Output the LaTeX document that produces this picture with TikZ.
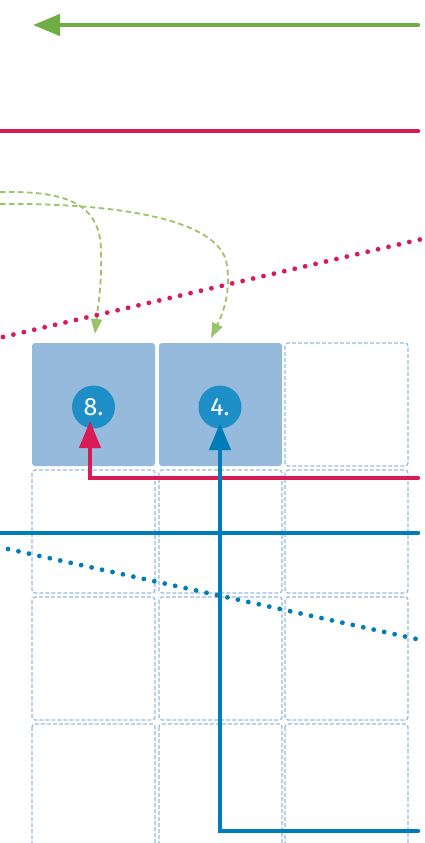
\documentclass[tikz,border=0pt]{standalone}
\usepackage{fontspec}
\setmainfont{Fira Sans}
\usetikzlibrary{arrows.meta}
\definecolor{garrow}{RGB}{112,173,71}
\definecolor{crim}{RGB}{216,27,86}
\definecolor{lgreen}{RGB}{155,196,106}
\definecolor{cellfill}{RGB}{150,186,220}
\definecolor{celldash}{RGB}{150,188,222}
\definecolor{circ}{RGB}{30,143,198}
\definecolor{bblue}{RGB}{0,125,185}
\tikzset{
  cellbox/.style={draw=celldash, line width=1.3pt, dash pattern=on 4pt off 2pt, rounded corners=3pt},
  fullcell/.style={fill=cellfill, rounded corners=3pt},
  numcirc/.style={circle, fill=circ, minimum size=43pt, inner sep=0pt, text=white, font=\fontsize{25}{25}\selectfont},
  thick line/.style={line width=4.5pt},
  dotline/.style={line width=4.8pt, line cap=round, dash pattern=on 0pt off 10.7pt},
  curvearrow/.style={draw=lgreen, line width=1.8pt, dash pattern=on 5.5pt off 3.5pt, -{Triangle[length=15pt,width=11pt,fill=lgreen]}},
}
\begin{document}
\begin{tikzpicture}[x=1pt,y=-1pt]
\useasboundingbox (0,0) rectangle (425,843);
% grid cells
\foreach \r/\ya/\yb in {2/470/593,3/597/720,4/724/860}{
  \foreach \c/\xa/\xb in {1/32/155,2/159/282,3/285/408}{
    \draw[cellbox] (\xa,\ya) rectangle (\xb,\yb);
  }
}
\draw[cellbox] (285,343) rectangle (408,466);
\fill[fullcell] (32,343) rectangle (155,466);
\fill[fullcell] (159,343) rectangle (282,466);
% top lines
\coordinate (gs) at (418,25);
\coordinate (ge) at (33,25);
\draw[garrow, thick line, line cap=round, -{Triangle[length=27pt,width=21pt]}] (gs) -- (ge);
\coordinate (rls) at (0,131);
\coordinate (rle) at (418,131);
\draw[crim, thick line, line cap=round] (rls) -- (rle);
% dashed curves
\coordinate (c1s) at (0,192);
\coordinate (c1e) at (95,334);
\coordinate (c2s) at (0,204);
\coordinate (c2e) at (211,338);
\draw[curvearrow] (c1s) .. controls (60,191) and (100,200) .. (101,250) .. controls (102,285) and (98,305) .. (c1e);
\draw[curvearrow] (c2s) .. controls (100,203) and (220,215) .. (227,265) .. controls (231,295) and (222,315) .. (c2e);
% dotted red
\coordinate (rds) at (3,337);
\coordinate (rde) at (422,239);
\draw[crim, dotline] (rds) -- (rde);
% circles
\node[numcirc] (c8) at (93.5,407) {8.};
\node[numcirc] (c4) at (220,407) {4.};
% red arrow
\coordinate (ra) at (418,478);
\coordinate (rtip) at (90,421);
\draw[crim, thick line, line cap=round, -{Triangle[length=27pt,width=21pt]}] (ra) -- (90,478) -- (rtip);
% blue horizontal
\coordinate (bhs) at (0,533);
\coordinate (bhe) at (418,533);
\draw[bblue, thick line, line cap=round] (bhs) -- (bhe);
% blue dotted
\coordinate (bds) at (8,549);
\coordinate (bde) at (421,640);
\draw[bblue, dotline] (bds) -- (bde);
% blue arrow
\coordinate (ba) at (418,831);
\coordinate (btip) at (220,423);
\draw[bblue, thick line, line cap=round, -{Triangle[length=27pt,width=21pt]}] (ba) -- (220,831) -- (btip);
\end{tikzpicture}
\end{document}
